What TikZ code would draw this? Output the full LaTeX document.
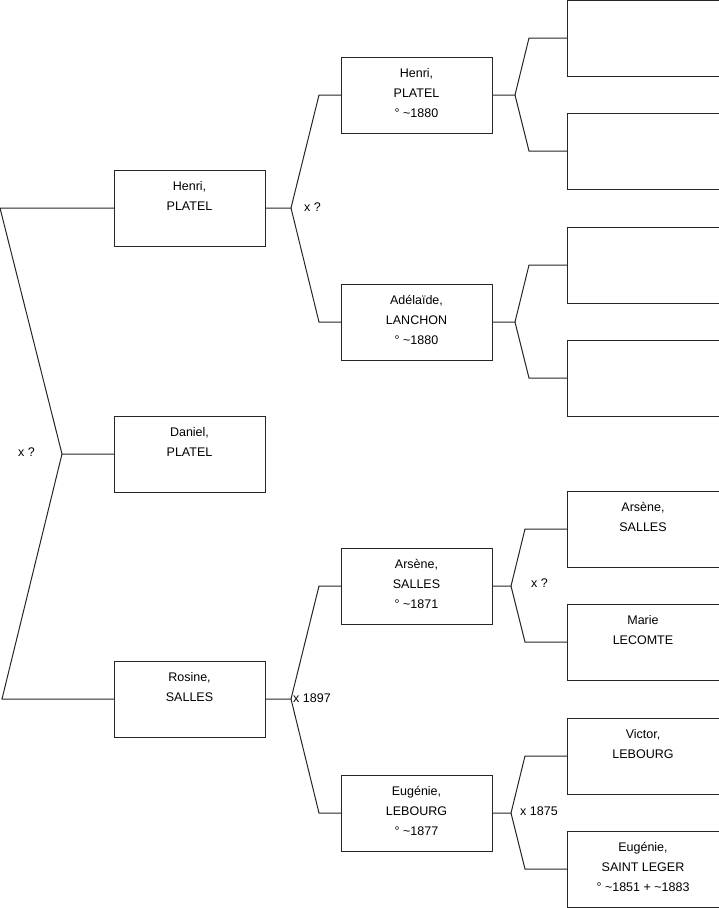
\documentclass[tikz,border=0pt]{standalone}
\usepackage{fontspec}
\setmainfont{Liberation Sans}
\newcommand{\tl}[1]{\strut #1}
\begin{document}
\begin{tikzpicture}[x=1pt,y=-1pt,
  person/.style={draw=black!85,line width=1pt,minimum width=151pt,minimum height=76pt,inner sep=0pt,outer sep=0pt},
  txt/.style={inner sep=0pt,align=center,yshift=2pt,font=\fontsize{12.5}{20}\selectfont},
  link/.style={draw=black!85,line width=1pt},
  lbl/.style={anchor=west,inner sep=0pt,font=\fontsize{12.5}{14}\selectfont}]
\useasboundingbox (0,0) rectangle (719,908);
% column 1
\node[person] (henri1) at (189.5,208) {};
\node[person] (daniel) at (189.5,454) {};
\node[person] (rosine) at (189.5,699) {};
% column 2
\node[person] (henri2) at (416.5,95) {};
\node[person] (adel) at (416.5,322) {};
\node[person] (arsene2) at (416.5,586) {};
\node[person] (eugenie2) at (416.5,813) {};
% column 3
\node[person,minimum width=152pt] (e1) at (643,38) {};
\node[person,minimum width=152pt] (e2) at (643,151) {};
\node[person,minimum width=152pt] (e3) at (643,265) {};
\node[person,minimum width=152pt] (e4) at (643,378) {};
\node[person,minimum width=152pt] (arsene3) at (643,529) {};
\node[person,minimum width=152pt] (marie) at (643,642) {};
\node[person,minimum width=152pt] (victor) at (643,756) {};
\node[person,minimum width=152pt] (eugenie3) at (643,869) {};
% texts
\node[txt] (t-henri1) at (henri1.center) {\tl{Henri,}\\\tl{PLATEL}\\\tl{}};
\node[txt] (t-daniel) at (daniel.center) {\tl{Daniel,}\\\tl{PLATEL}\\\tl{}};
\node[txt] (t-rosine) at (rosine.center) {\tl{Rosine,}\\\tl{SALLES}\\\tl{}};
\node[txt] (t-henri2) at (henri2.center) {\tl{Henri,}\\\tl{PLATEL}\\\tl{° \textasciitilde1880}};
\node[txt] (t-adel) at (adel.center) {\tl{Adélaïde,}\\\tl{LANCHON}\\\tl{° \textasciitilde1880}};
\node[txt] (t-arsene2) at (arsene2.center) {\tl{Arsène,}\\\tl{SALLES}\\\tl{° \textasciitilde1871}};
\node[txt] (t-eugenie2) at (eugenie2.center) {\tl{Eugénie,}\\\tl{LEBOURG}\\\tl{° \textasciitilde1877}};
\node[txt] (t-arsene3) at (arsene3.center) {\tl{Arsène,}\\\tl{SALLES}\\\tl{}};
\node[txt] (t-marie) at (marie.center) {\tl{Marie}\\\tl{LECOMTE}\\\tl{}};
\node[txt] (t-victor) at (victor.center) {\tl{Victor,}\\\tl{LEBOURG}\\\tl{}};
\node[txt] (t-eugenie3) at (eugenie3.center) {\tl{Eugénie,}\\\tl{SAINT LEGER}\\\tl{° \textasciitilde1851 + \textasciitilde1883}};
% fork and elbow points
\coordinate (f0) at (62,454);
\coordinate (f0a) at (0,208);
\coordinate (f0b) at (2,699);
\coordinate (f1) at (291,208);
\coordinate (f1a) at (319,95);
\coordinate (f1b) at (319,322);
\coordinate (f2) at (515,95);
\coordinate (f2a) at (529,38);
\coordinate (f2b) at (529,151);
\coordinate (f3) at (515,322);
\coordinate (f3a) at (529,265);
\coordinate (f3b) at (529,378);
\coordinate (f4) at (291,699);
\coordinate (f4a) at (319,586);
\coordinate (f4b) at (319,813);
\coordinate (f5) at (511,586);
\coordinate (f5a) at (525,529);
\coordinate (f5b) at (525,642);
\coordinate (f6) at (511,813);
\coordinate (f6a) at (525,756);
\coordinate (f6b) at (525,869);
% connectors
\draw[link] (daniel.west) -- (f0) -- (f0a) -- (henri1.west);
\draw[link] (f0) -- (f0b) -- (rosine.west);
\draw[link] (henri1.east) -- (f1) -- (f1a) -- (henri2.west);
\draw[link] (f1) -- (f1b) -- (adel.west);
\draw[link] (henri2.east) -- (f2) -- (f2a) -- (e1.west);
\draw[link] (f2) -- (f2b) -- (e2.west);
\draw[link] (adel.east) -- (f3) -- (f3a) -- (e3.west);
\draw[link] (f3) -- (f3b) -- (e4.west);
\draw[link] (rosine.east) -- (f4) -- (f4a) -- (arsene2.west);
\draw[link] (f4) -- (f4b) -- (eugenie2.west);
\draw[link] (arsene2.east) -- (f5) -- (f5a) -- (arsene3.west);
\draw[link] (f5) -- (f5b) -- (marie.west);
\draw[link] (eugenie2.east) -- (f6) -- (f6a) -- (victor.west);
\draw[link] (f6) -- (f6b) -- (eugenie3.west);
% labels
\node[lbl] (l0) at (18,452) {x ?};
\node[lbl] (l1) at (304,207) {x ?};
\node[lbl] (l4) at (293,698) {x 1897};
\node[lbl] (l5) at (531,583) {x ?};
\node[lbl] (l6) at (520,811) {x 1875};
\end{tikzpicture}
\end{document}
